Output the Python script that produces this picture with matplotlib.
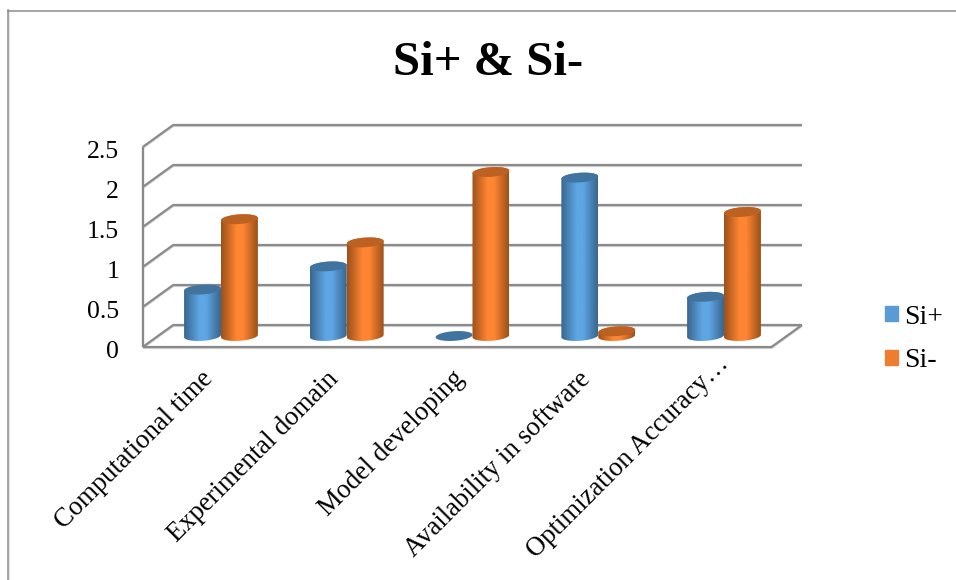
import numpy as np
import matplotlib
matplotlib.use('Agg')
import matplotlib.pyplot as plt
from matplotlib.colors import LinearSegmentedColormap
from matplotlib.lines import Line2D
from matplotlib.patches import Patch, Polygon
from matplotlib.transforms import ScaledTranslation

plt.rcParams['font.family'] = ['Liberation Serif', 'DejaVu Serif']

categories = ['Computational time', 'Experimental domain', 'Model developing',
              'Availability in software', 'Optimization Accuracy…']
si_plus = [0.58, 0.87, 0.0, 1.98, 0.49]
si_minus = [1.46, 1.17, 2.05, 0.06, 1.55]
y_ticks = [0, 0.5, 1, 1.5, 2, 2.5]
y_labels = ['0', '0.5', '1', '1.5', '2', '2.5']

W, H = 956, 580
LEFT, RIGHT, BOTTOM, TOP = 142.7, 771.5, 347, 147

fig = plt.figure(figsize=(W / 100, H / 100), dpi=100)
ax = fig.add_axes([LEFT / W, 1 - BOTTOM / H, (RIGHT - LEFT) / W, (BOTTOM - TOP) / H])
ax.set_xlim(-0.5, 4.5)
ax.set_ylim(0, 2.5)

# data units per pixel
ux = 5 / (RIGHT - LEFT)
uy = 2.5 / (BOTTOM - TOP)
depth_x = 30.5 * ux
depth_y = 22 * uy

GRID = '#8a8a8a'
SHADE = '#d4d4d4'


def wall_line(xs, ys, z=1):
    ax.plot(xs, np.array(ys) - 1 * uy, color=SHADE, lw=1.6, zorder=z, clip_on=False,
            solid_capstyle='butt')
    ax.plot(xs, ys, color=GRID, lw=1.6, zorder=z + 0.1, clip_on=False,
            solid_capstyle='butt')


# back wall grid plus the slanted side lines
for v in y_ticks:
    wall_line([-0.5 + depth_x, 4.5 + depth_x], [v + depth_y, v + depth_y])
    wall_line([-0.5, -0.5 + depth_x], [v, v + depth_y])
wall_line([-0.5, -0.5], [0, 2.5])
wall_line([-0.5, 4.5], [0, 0])
wall_line([4.5, 4.5 + depth_x], [0, depth_y])


def ellipse_xy(cx, cy, t, rx_px=18.5, ry_px=4.8, tilt=np.radians(4)):
    px = rx_px * np.cos(t) * np.cos(tilt) - ry_px * np.sin(t) * np.sin(tilt)
    py = rx_px * np.cos(t) * np.sin(tilt) + ry_px * np.sin(t) * np.cos(tilt)
    return cx + px * ux, cy + py * uy


def cylinder(x, value, edge, mid, top_color, z):
    base = depth_y / 2
    if value > 0:
        t_low = np.linspace(np.pi, 2 * np.pi, 40)
        t_up = np.linspace(0, np.pi, 40)
        bx, by = ellipse_xy(x, base, t_low)
        tx, ty = ellipse_xy(x, base + value, t_up)
        body = Polygon(np.column_stack([np.r_[bx, tx], np.r_[by, ty]]),
                       closed=True, transform=ax.transData, fc='none', ec='none')
        ax.add_patch(body)
        # dark sides, lit middle
        cmap = LinearSegmentedColormap.from_list(
            'body', [(0, edge), (0.42, mid), (0.6, mid), (1, edge)])
        x0 = x - 18.5 * ux
        x1 = x + 18.5 * ux
        im = ax.imshow(np.linspace(0, 1, 64)[None, :], extent=[x0, x1, 0, 2.5],
                       aspect='auto', cmap=cmap, zorder=z, interpolation='bilinear')
        im.set_clip_path(body)
    t = np.linspace(0, 2 * np.pi, 80)
    ex, ey = ellipse_xy(x, base + value, t)
    ax.fill(ex, ey, color=top_color, lw=0, zorder=z + 0.1)


for i in range(len(categories)):
    center = i + depth_x / 2
    cylinder(center - 18.3 * ux, si_plus[i], '#39678f', '#5ea6e4', '#41739f', 3 + i)
    cylinder(center + 18.6 * ux, si_minus[i], '#9d5119', '#ff8533', '#bd6122', 3.5 + i)

ax.set_xlim(-0.5, 4.5)
ax.set_ylim(0, 2.5)

for s in ax.spines.values():
    s.set_visible(False)
ax.patch.set_visible(False)

ax.set_yticks(y_ticks, y_labels, fontsize=18.5)
ax.tick_params(axis='y', length=0, pad=17)
# sit the numbers a little below their gridlines
nudge = ScaledTranslation(0, -1.5 / 72, fig.dpi_scale_trans)
for lab in ax.get_yticklabels():
    lab.set_transform(lab.get_transform() + nudge)

ax.set_xticks(range(len(categories)), categories, fontsize=19.2, rotation=45,
              ha='right', va='top', rotation_mode='anchor')
ax.tick_params(axis='x', length=0, pad=14)
# labels hang slightly left of the ticks; the truncated last one sits higher
shifts = [(-5, 0), (-5, 0), (-5, 0), (-5, 0), (8, 15)]
for lab, (dx, dy) in zip(ax.get_xticklabels(), shifts):
    lab.set_transform(lab.get_transform() + ScaledTranslation(dx / 100, dy / 100, fig.dpi_scale_trans))

fig.text(488 / W, 1 - 63 / H, 'Si+ & Si-', fontsize=35, fontweight='bold',
         ha='center', va='center')

handles = [Patch(color='#5b9bd5', label='Si+'), Patch(color='#ed7d31', label='Si-')]
fig.legend(handles=handles, loc='center left', bbox_to_anchor=(860 / W, 1 - 339 / H),
           frameon=False, fontsize=20, handlelength=0.48, handleheight=0.48,
           handletextpad=0.22, labelspacing=0.68)

# outer chart frame
for xs, ys, c in [([8.8, 8.8], [10, 580], '#e2e2e2'), ([8, 8], [10, 580], '#8c8c8c'),
                  ([8, 956], [10.5, 10.5], '#8c8c8c')]:
    fig.add_artist(Line2D(np.array(xs) / W, 1 - np.array(ys) / H, color=c, lw=1.1))

fig.savefig('out.png', dpi=100)
